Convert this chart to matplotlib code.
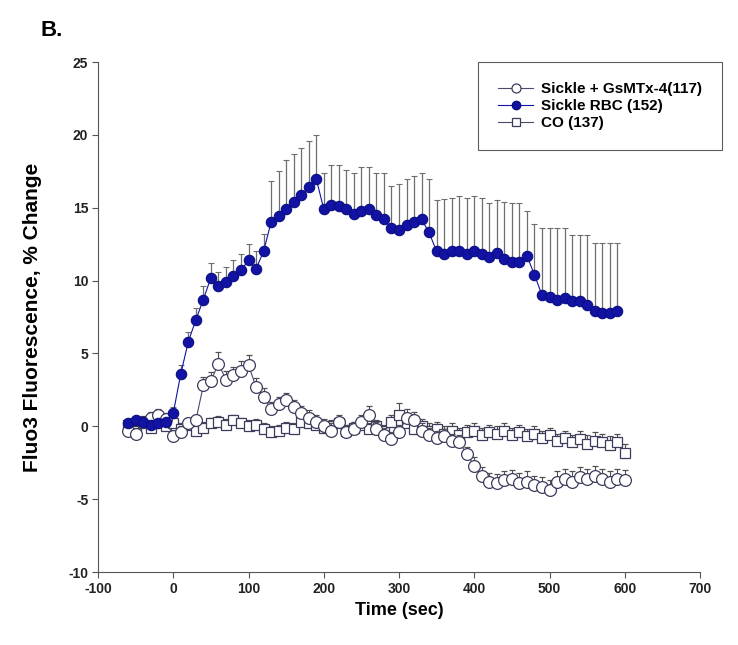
import numpy as np
import matplotlib
matplotlib.use('Agg')
import matplotlib.pyplot as plt
from matplotlib.lines import Line2D

plt.rcParams['font.family'] = ['Liberation Sans', 'DejaVu Sans']
plt.rcParams['axes.unicode_minus'] = False

# time points (sec)
time_rbc = list(range(-60, 600, 10))
time_open = list(range(-60, 610, 10))

# Sickle RBC (152)
rbc_mean = [0.2, 0.4, 0.3, 0.1, 0.2, 0.3, 0.9, 3.6, 5.8, 7.3, 8.7, 10.2, 9.6, 9.9, 10.3, 10.7,
            11.4, 10.8, 12.0, 14.0, 14.4, 14.9, 15.4, 15.9, 16.4, 17.0, 14.9, 15.2, 15.1, 14.9,
            14.6, 14.8, 14.9, 14.5, 14.2, 13.6, 13.5, 13.8, 14.0, 14.2, 13.3, 12.0, 11.8, 12.0,
            12.0, 11.8, 12.0, 11.8, 11.6, 11.9, 11.5, 11.3, 11.3, 11.7, 10.4, 9.0, 8.9, 8.7,
            8.8, 8.6, 8.6, 8.3, 7.9, 7.8, 7.8, 7.9]
rbc_sem = [0.3, 0.3, 0.3, 0.3, 0.3, 0.3, 0.4, 0.6, 0.7, 0.8, 0.9, 1.0, 1.0, 1.0, 1.1, 1.1,
           1.1, 1.2, 1.2, 2.8, 3.1, 3.4, 3.3, 3.2, 3.2, 3.0, 2.5, 2.7, 2.8, 2.7,
           2.8, 3.0, 2.9, 2.9, 3.2, 2.9, 3.1, 3.2, 3.2, 3.2, 3.7, 3.5, 3.8, 3.7,
           3.8, 3.9, 3.8, 3.9, 3.7, 3.6, 3.9, 4.0, 4.0, 3.1, 3.5, 4.6, 4.7, 4.9,
           4.8, 4.5, 4.5, 4.8, 4.7, 4.8, 4.8, 4.7]

# Sickle + GsMTx-4 (117)
gs_mean = [-0.3, -0.5, 0.3, 0.6, 0.8, 0.5, -0.7, -0.4, 0.2, 0.4, 2.8, 3.1, 4.3, 3.2, 3.5, 3.8,
           4.2, 2.7, 2.0, 1.2, 1.5, 1.8, 1.3, 0.9, 0.6, 0.3, 0.0, -0.3, 0.3, -0.4, -0.2, 0.3,
           0.8, -0.2, -0.6, -0.9, -0.4, 0.6, 0.4, -0.3, -0.6, -0.8, -0.7, -1.0, -1.1, -1.9,
           -2.7, -3.4, -3.8, -3.9, -3.7, -3.6, -3.9, -3.8, -4.0, -4.2, -4.4, -3.8, -3.6,
           -3.8, -3.5, -3.6, -3.4, -3.6, -3.8, -3.6, -3.7]
gs_sem = [0.4, 0.4, 0.4, 0.4, 0.4, 0.4, 0.4, 0.4, 0.4, 0.4, 0.6, 0.6, 0.8, 0.6, 0.6, 0.7,
          0.7, 0.6, 0.6, 0.5, 0.5, 0.5, 0.5, 0.5, 0.5, 0.5, 0.5, 0.5, 0.5, 0.5, 0.5, 0.5,
          0.6, 0.5, 0.5, 0.5, 0.5, 0.6, 0.6, 0.5, 0.5, 0.5, 0.5, 0.5, 0.5, 0.5,
          0.6, 0.6, 0.6, 0.6, 0.6, 0.6, 0.7, 0.7, 0.6, 0.7, 0.7, 0.7, 0.7,
          0.7, 0.7, 0.7, 0.7, 0.7, 0.7, 0.7, 0.7]

# CO (137)
co_mean = [0.1, -0.3, 0.2, -0.1, 0.3, 0.0, 0.2, -0.2, 0.1, -0.3, -0.1, 0.2, 0.3, 0.1, 0.4, 0.2,
           0.0, 0.1, -0.2, -0.4, -0.3, -0.1, -0.2, 0.3, 0.2, 0.1, -0.1, 0.0, 0.2, -0.3, -0.1,
           0.1, -0.2, 0.0, -0.3, 0.3, 0.8, 0.2, -0.2, 0.0, -0.3, -0.2, -0.5, -0.3, -0.6, -0.4,
           -0.3, -0.6, -0.4, -0.5, -0.3, -0.6, -0.4, -0.7, -0.5, -0.8, -0.6, -1.0, -0.8, -1.1,
           -0.9, -1.2, -1.0, -1.1, -1.3, -1.1, -1.8]
co_sem = [0.4, 0.4, 0.4, 0.4, 0.4, 0.4, 0.4, 0.4, 0.4, 0.4, 0.4, 0.4, 0.4, 0.4, 0.4, 0.4,
          0.4, 0.4, 0.4, 0.4, 0.4, 0.4, 0.4, 0.4, 0.4, 0.4, 0.4, 0.4, 0.4, 0.4, 0.4,
          0.4, 0.4, 0.4, 0.4, 0.5, 0.8, 0.5, 0.5, 0.5, 0.5, 0.5, 0.5, 0.5, 0.5, 0.5,
          0.5, 0.5, 0.5, 0.5, 0.5, 0.5, 0.5, 0.5, 0.5, 0.5, 0.5, 0.5, 0.5, 0.5,
          0.6, 0.6, 0.6, 0.6, 0.6, 0.6, 0.6]

labels = ['Sickle + GsMTx-4(117)', 'Sickle RBC (152)', 'CO (137)']

open_edge = '#3c3c5c'
blue = '#1212a4'

fig = plt.figure(figsize=(7.38, 6.45), dpi=100)
ax = fig.add_axes([98 / 738, 1 - 572 / 645, 602 / 738, 510 / 645])

# CO squares
ax.errorbar(time_open, co_mean, yerr=[np.zeros(len(co_sem)), co_sem], fmt='s-', color='#4a4a6a',
            lw=0.8, ms=7, mfc='white', mec=open_edge, mew=0.9, ecolor='#505050',
            elinewidth=0.8, capsize=2.5, capthick=0.8, zorder=2)
# GsMTx-4 open circles
ax.errorbar(time_open, gs_mean, yerr=[np.zeros(len(gs_sem)), gs_sem], fmt='o-', color='#4a4a6a',
            lw=0.8, ms=8.5, mfc='white', mec=open_edge, mew=0.9, ecolor='#505050',
            elinewidth=0.8, capsize=2.5, capthick=0.8, zorder=3)
# Sickle RBC filled
ax.errorbar(time_rbc, rbc_mean, yerr=[np.zeros(len(rbc_sem)), rbc_sem], fmt='o-', color=blue,
            lw=0.8, ms=7.5, mfc=blue, mec='#0a0f80', mew=0.8, ecolor='#6e6e6e',
            elinewidth=0.9, capsize=2.5, capthick=0.9, zorder=4)

ax.set_xlim(-100, 700)
ax.set_ylim(-10, 25)
ax.set_xticks(range(-100, 701, 100))
ax.set_yticks(range(-10, 26, 5))
ax.spines['top'].set_visible(False)
ax.spines['right'].set_visible(False)
ax.spines['left'].set_color('#555555')
ax.spines['bottom'].set_color('#555555')
ax.tick_params(direction='out', length=4, color='#555555', labelsize=10, pad=3,
               labelcolor='#222222')
for t in ax.get_xticklabels() + ax.get_yticklabels():
    t.set_fontweight('bold')

ax.set_xlabel('Time (sec)', fontsize=13, fontweight='bold')
ax.set_ylabel('Fluo3 Fluorescence, % Change', fontsize=15, fontweight='bold')
ax.xaxis.set_label_coords(0.5, -0.058)
ax.yaxis.set_label_coords(-0.093, 0.5)

handles = [
    Line2D([], [], color='#4a4a6a', lw=0.8, marker='o', ms=6.5, mfc='white', mec=open_edge, mew=0.9),
    Line2D([], [], color=blue, lw=0.8, marker='o', ms=6, mfc=blue, mec='#0a0f80'),
    Line2D([], [], color='#4a4a6a', lw=0.8, marker='s', ms=6, mfc='white', mec=open_edge, mew=0.9),
]
leg = ax.legend(handles, labels, loc='upper right', bbox_to_anchor=(1.036, 1.0), frameon=True,
                fancybox=False, edgecolor='#333333', prop={'weight': 'bold', 'size': 11},
                handlelength=2.3, handletextpad=0.5, borderpad=1.3, labelspacing=0.2,
                borderaxespad=0)
leg.get_frame().set_linewidth(0.8)

fig.text(40 / 738, 1 - 31 / 645, 'B.', fontsize=16, fontweight='bold', ha='left', va='center')

fig.savefig('out.png', dpi=100)
